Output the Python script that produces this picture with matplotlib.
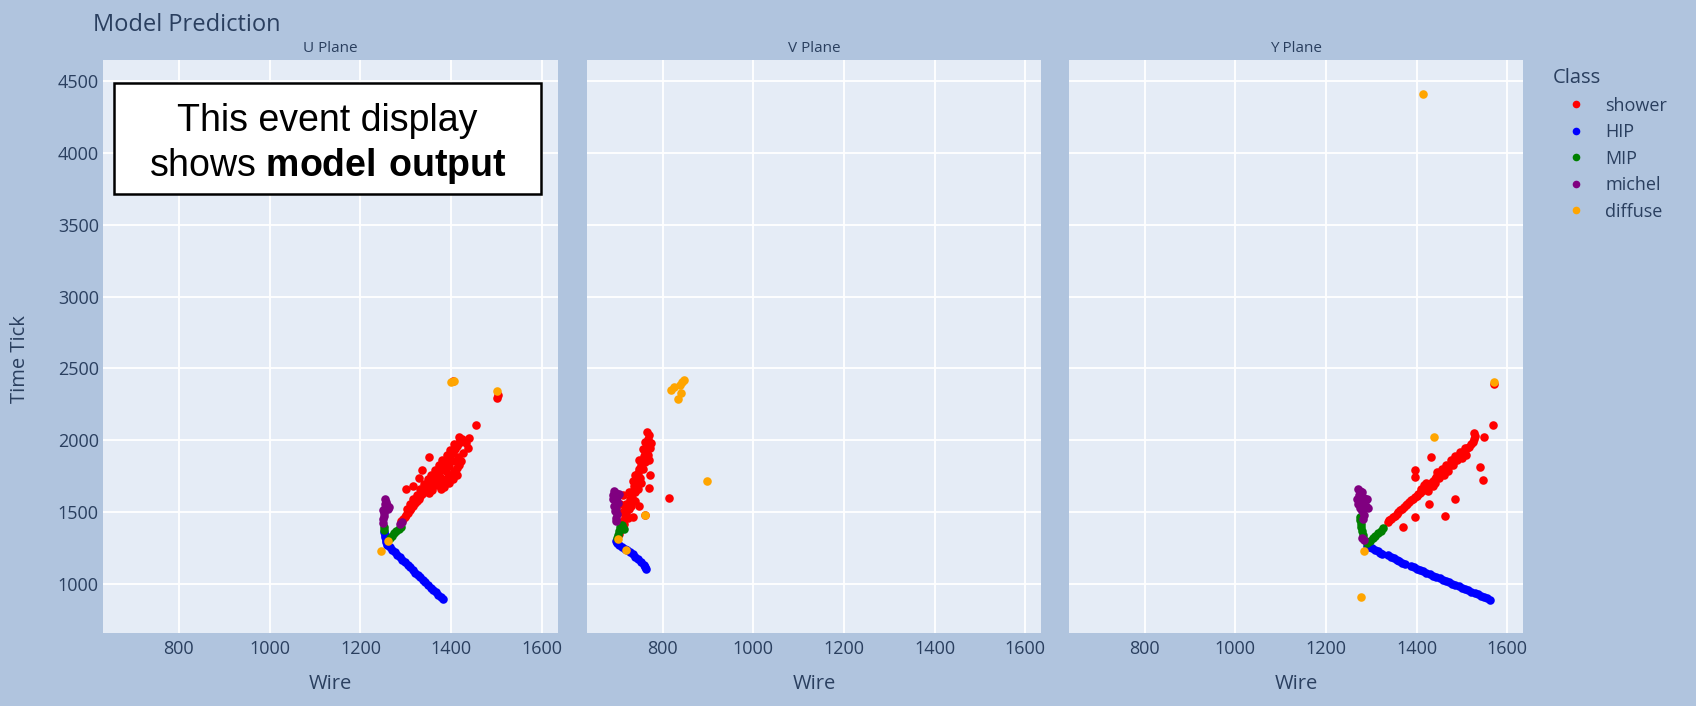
import matplotlib.pyplot as plt
from matplotlib.patches import Rectangle
from matplotlib.lines import Line2D

# ---- data: (wire, time tick) ----
planes = ["U Plane", "V Plane", "Y Plane"]
classes = ["shower", "HIP", "MIP", "michel", "diffuse"]
class_colors = ["red", "blue", "green", "purple", "orange"]

u_shower = [(1290, 1440), (1294, 1452), (1298, 1470), (1300, 1482), (1304, 1497), (1308, 1512), (1302, 1524),
            (1312, 1530), (1316, 1546), (1310, 1556), (1320, 1562), (1324, 1578), (1316, 1590), (1328, 1594),
            (1332, 1610), (1324, 1622), (1336, 1628), (1340, 1644), (1332, 1660), (1344, 1664), (1348, 1680),
            (1340, 1694), (1352, 1698), (1356, 1714), (1348, 1728), (1360, 1730), (1364, 1748), (1356, 1760),
            (1368, 1764), (1372, 1780), (1364, 1794), (1376, 1798), (1380, 1814), (1372, 1828), (1384, 1832),
            (1388, 1850), (1380, 1862), (1392, 1866), (1396, 1884), (1390, 1898), (1400, 1902), (1404, 1920),
            (1398, 1934), (1408, 1940), (1412, 1958), (1406, 1972), (1416, 1978), (1420, 1996), (1424, 2012),
            (1418, 2024), (1366, 1690), (1374, 1706), (1382, 1722), (1390, 1740), (1398, 1760), (1406, 1784),
            (1412, 1806), (1418, 1830), (1422, 1856), (1384, 1676), (1396, 1700), (1404, 1728), (1412, 1760),
            (1358, 1656), (1350, 1636), (1388, 1790), (1376, 1742), (1394, 1818), (1414, 1882), (1426, 1910),
            (1408, 1856), (1378, 1660), (1300, 1660), (1316, 1680), (1329, 1740), (1335, 1794), (1351, 1886),
            (1439, 2016), (1454, 2104), (1501, 2292), (1503, 2316), (1403, 2414), (1432, 1980), (1436, 1950)]
u_hip = [(1252, 1360), (1253, 1342), (1254, 1325), (1256, 1308), (1257, 1290), (1259, 1272), (1264, 1257),
         (1270, 1238), (1275, 1222), (1281, 1203), (1287, 1186), (1292, 1168), (1298, 1151), (1304, 1132),
         (1309, 1116), (1315, 1098), (1321, 1080), (1326, 1064), (1332, 1046), (1338, 1028), (1343, 1012),
         (1349, 994), (1355, 976), (1360, 960), (1366, 942), (1371, 926), (1377, 908), (1382, 896)]
u_mip = [(1251, 1395), (1252, 1378), (1264, 1322), (1269, 1338), (1274, 1352), (1279, 1368), (1284, 1384),
         (1289, 1400)]
u_michel = [(1250, 1428), (1249, 1450), (1251, 1472), (1252, 1494), (1250, 1516), (1254, 1532), (1258, 1548),
            (1262, 1536), (1253, 1556), (1256, 1574), (1254, 1590), (1260, 1520), (1288, 1418), (1292, 1430)]
u_diffuse = [(1400, 2407), (1406, 2412), (1500, 2344), (1260, 1303), (1246, 1231)]

v_shower = [(704, 1350), (708, 1380), (710, 1410), (712, 1440), (716, 1470), (718, 1500), (722, 1530),
            (724, 1560), (728, 1590), (730, 1620), (734, 1650), (736, 1680), (740, 1710), (742, 1740),
            (746, 1770), (748, 1800), (752, 1830), (754, 1860), (758, 1890), (760, 1920), (764, 1950),
            (766, 1980), (768, 2010), (770, 2040), (766, 2055), (714, 1420), (720, 1480), (726, 1520),
            (732, 1600), (738, 1640), (744, 1700), (750, 1740), (756, 1800), (762, 1850), (768, 1900),
            (772, 1950), (774, 1980), (720, 1560), (716, 1540), (712, 1500), (726, 1640), (734, 1720),
            (740, 1760), (748, 1860), (756, 1940), (760, 1990), (764, 1880), (770, 1860), (752, 1700),
            (746, 1660), (738, 1580), (730, 1540), (724, 1460), (815, 1600), (760, 1480), (772, 1760),
            (735, 1470), (748, 1540), (770, 1670), (706, 1560), (712, 1620)]
v_hip = [(698, 1300), (700, 1285), (704, 1270), (710, 1258), (716, 1246), (722, 1234), (728, 1222),
         (734, 1208), (740, 1192), (746, 1176), (752, 1156), (758, 1134), (762, 1116), (764, 1104)]
v_mip = [(700, 1320), (701, 1345), (703, 1370), (706, 1395), (710, 1410), (714, 1385)]
v_michel = [(692, 1645), (698, 1635), (694, 1615), (700, 1605), (690, 1590), (696, 1575), (702, 1565),
            (692, 1545), (698, 1525), (694, 1505), (700, 1485), (696, 1462), (704, 1625), (690, 1620),
            (697, 1440)]
v_diffuse = [(818, 2352), (825, 2372), (834, 2290), (840, 2330), (843, 2405), (848, 2420), (838, 2385),
             (897, 1715), (702, 1312), (718, 1240), (762, 1480)]

y_shower = [(1336, 1432), (1340, 1445), (1344, 1452), (1348, 1468), (1352, 1476), (1356, 1490), (1360, 1500),
            (1364, 1512), (1368, 1522), (1372, 1536), (1376, 1548), (1380, 1556), (1384, 1570), (1388, 1582),
            (1392, 1590), (1396, 1606), (1400, 1612), (1404, 1628), (1408, 1636), (1412, 1650), (1416, 1660),
            (1420, 1672), (1424, 1684), (1428, 1694), (1432, 1706), (1436, 1718), (1440, 1728), (1444, 1742),
            (1448, 1752), (1452, 1764), (1456, 1776), (1460, 1786), (1464, 1800), (1468, 1810), (1472, 1822),
            (1476, 1836), (1480, 1846), (1484, 1860), (1488, 1870), (1492, 1884), (1496, 1894), (1500, 1906),
            (1504, 1920), (1508, 1930), (1512, 1944), (1516, 1956), (1520, 1972), (1524, 1990), (1527, 2010),
            (1530, 2030), (1526, 2048), (1410, 1660), (1420, 1700), (1430, 1690), (1440, 1700), (1450, 1740),
            (1460, 1760), (1470, 1790), (1480, 1830), (1490, 1860), (1500, 1880), (1446, 1780), (1456, 1800),
            (1466, 1830), (1476, 1860), (1436, 1680), (1426, 1650), (1416, 1690), (1486, 1890), (1496, 1920),
            (1506, 1950), (1510, 1900), (1571, 2390), (1568, 2106), (1548, 2021), (1431, 1886), (1396, 1794),
            (1397, 1745), (1541, 1817), (1546, 1724), (1486, 1592), (1462, 1477), (1427, 1558), (1397, 1470),
            (1370, 1400)]
y_hip = [(1290, 1266), (1296, 1258), (1302, 1250), (1308, 1240), (1314, 1230), (1320, 1218), (1324, 1212),
         (1338, 1200), (1344, 1190), (1350, 1180), (1356, 1170), (1362, 1160), (1368, 1148), (1375, 1137),
         (1387, 1125), (1394, 1116), (1401, 1106), (1408, 1097), (1415, 1088), (1422, 1078), (1430, 1068),
         (1437, 1058), (1444, 1049), (1451, 1040), (1458, 1030), (1465, 1021), (1472, 1012), (1479, 1002),
         (1486, 993), (1493, 984), (1500, 975), (1507, 965), (1514, 956), (1521, 946), (1528, 937),
         (1535, 928), (1542, 918), (1549, 909), (1556, 900), (1563, 891)]
y_mip = [(1275, 1470), (1276, 1445), (1277, 1420), (1278, 1395), (1279, 1370), (1281, 1345), (1282, 1322),
         (1291, 1288), (1297, 1302), (1303, 1318), (1309, 1334), (1315, 1352), (1321, 1370), (1327, 1388)]
y_michel = [(1270, 1660), (1275, 1650), (1280, 1640), (1272, 1620), (1278, 1610), (1285, 1600), (1290, 1590),
            (1268, 1590), (1275, 1575), (1282, 1560), (1288, 1545), (1292, 1530), (1270, 1555), (1276, 1530),
            (1280, 1510), (1283, 1480), (1282, 1450), (1280, 1318), (1284, 1306)]
y_diffuse = [(1571, 2407), (1438, 2025), (1284, 1233), (1278, 910), (1415, 4410)]

plane_data = [
    [u_shower, u_hip, u_mip, u_michel, u_diffuse],
    [v_shower, v_hip, v_mip, v_michel, v_diffuse],
    [y_shower, y_hip, y_mip, y_michel, y_diffuse],
]

x_ticks = [800, 1000, 1200, 1400, 1600]
y_ticks = [1000, 1500, 2000, 2500, 3000, 3500, 4000, 4500]

# ---- style ----
BG = "#B0C4DE"
PLOT_BG = "#E5ECF6"
TXT = "#2a3f5f"
W, H = 1696, 706

plt.rcParams["font.family"] = ["Open Sans", "DejaVu Sans"]
plt.rcParams["mathtext.fontset"] = "custom"
plt.rcParams["mathtext.rm"] = "Liberation Sans"
plt.rcParams["mathtext.bf"] = "Liberation Sans:bold"

fig = plt.figure(figsize=(W / 100, H / 100), dpi=100, facecolor=BG)

panel_px = [(103, 558), (587, 1041), (1069, 1523)]
top_px, bottom_px = 60, 633

for i, (name, (l, r)) in enumerate(zip(planes, panel_px)):
    ax = fig.add_axes([l / W, 1 - bottom_px / H, (r - l) / W, (bottom_px - top_px) / H])
    ax.set_facecolor(PLOT_BG)
    for sp in ax.spines.values():
        sp.set_visible(False)
    ax.set_xlim(633, 1635)
    ax.set_ylim(660, 4645)
    ax.set_xticks(x_ticks)
    ax.set_yticks(y_ticks)
    ax.grid(True, color="white", linewidth=1.3)
    ax.set_axisbelow(True)
    ax.tick_params(length=0, labelsize=13, colors=TXT)
    ax.tick_params(axis="x", pad=5)
    ax.tick_params(axis="y", pad=3)
    if i > 0:
        ax.set_yticklabels([])
    for pts, col in zip(plane_data[i], class_colors):
        ax.scatter([p[0] for p in pts], [p[1] for p in pts], s=38, c=col, linewidths=0, zorder=3)

    cx = (l + r) / 2 / W
    fig.text(cx, 1 - 49 / H, name, ha="center", va="center", fontsize=11, color=TXT)
    fig.text(cx, 1 - 684 / H, "Wire", ha="center", va="center", fontsize=14.5, color=TXT)

fig.text(93 / W, 1 - 25 / H, "Model Prediction", ha="left", va="center", fontsize=17, color=TXT)
fig.text(20 / W, 1 - 359 / H, "Time Tick", ha="center", va="center", rotation=90, fontsize=14.5, color=TXT)

# legend
handles = [Line2D([], [], marker="o", linestyle="none", markersize=5.5, markerfacecolor=c,
                  markeredgewidth=0) for c in class_colors]
leg = fig.legend(handles, classes, title="Class", loc="upper left", bbox_to_anchor=(1537 / W, 1 - 52 / H),
                 frameon=False, fontsize=13, title_fontsize=14.5, alignment="left",
                 handlelength=2.55, handletextpad=0.33, labelspacing=0.47, labelcolor=TXT)
leg.get_title().set_color(TXT)

# annotation box
box = Rectangle((114 / W, 1 - 194 / H), (541 - 114) / W, (194 - 83) / H, transform=fig.transFigure,
                facecolor="white", edgecolor="black", linewidth=1.8, zorder=5)
fig.add_artist(box)
fig.text(327.5 / W, 1 - 131 / H, "This event display", ha="center", va="baseline", fontsize=27,
         family="Liberation Sans", color="black", zorder=6)
fig.text(327.5 / W, 1 - 176 / H, r"shows $\mathbf{model\ output}$", ha="center", va="baseline",
         fontsize=27, family="Liberation Sans", color="black", zorder=6)

fig.savefig("out.png", dpi=100, facecolor=BG)
